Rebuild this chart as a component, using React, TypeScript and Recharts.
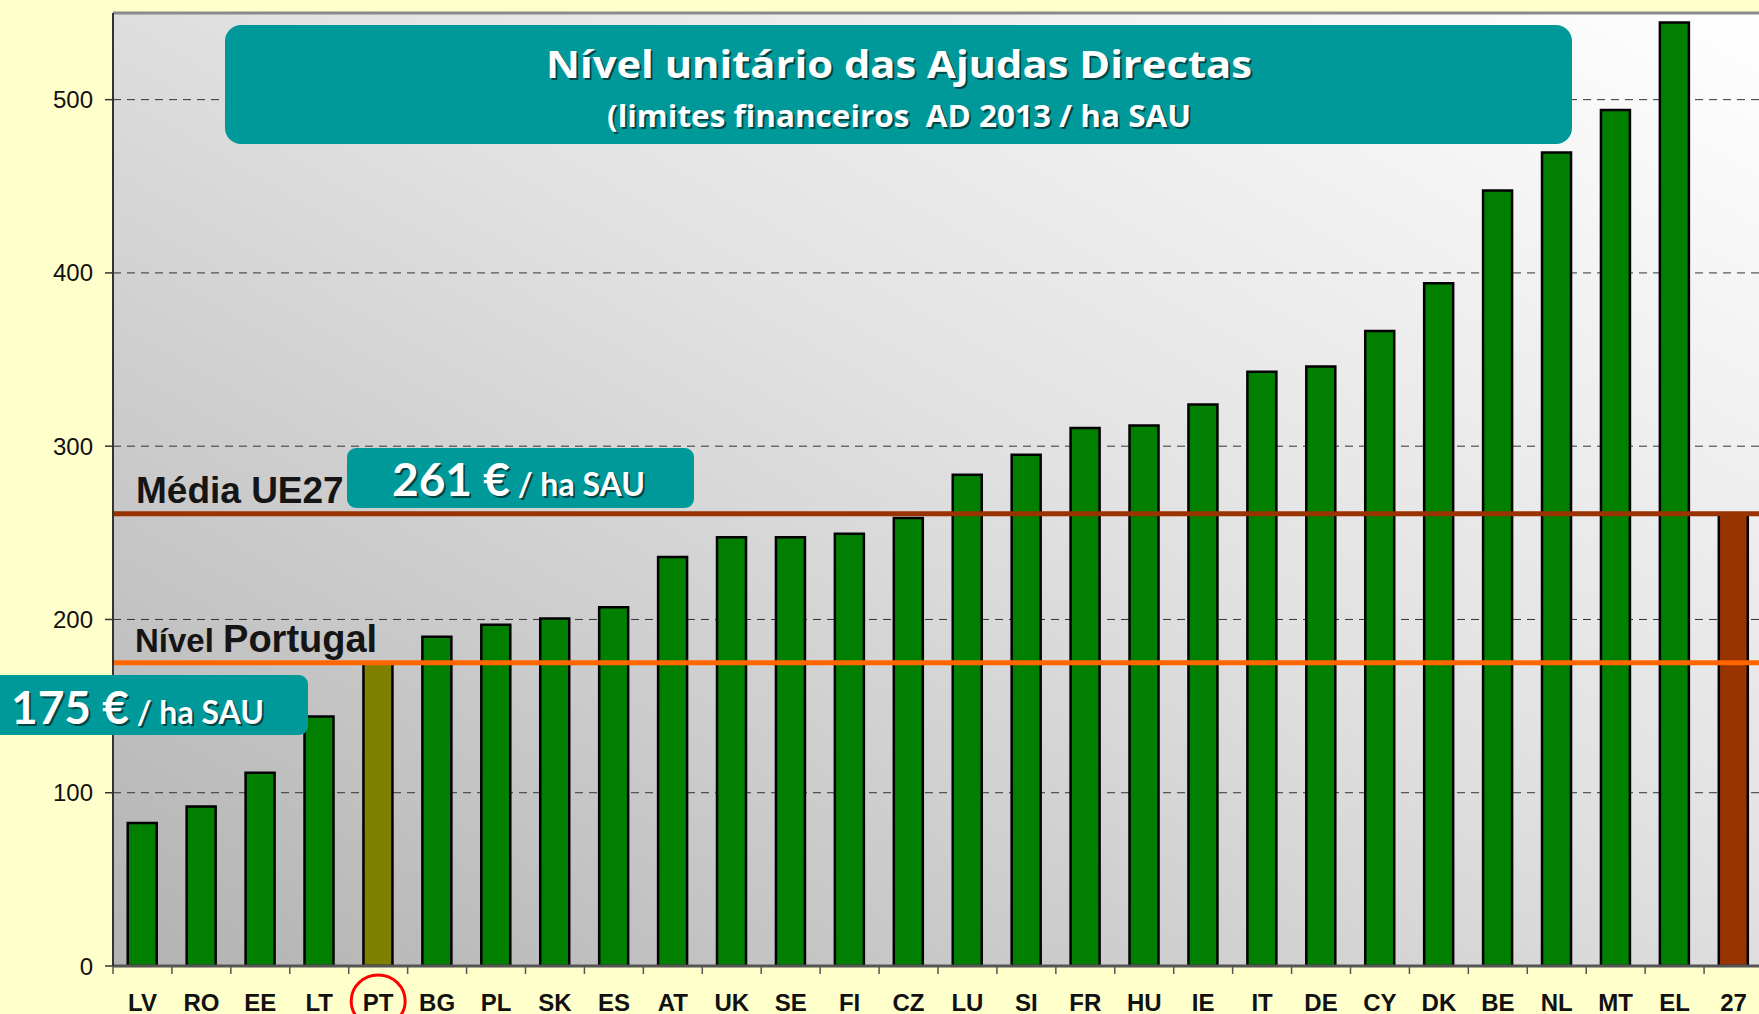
import { Bar, BarChart, CartesianGrid, Cell, ReferenceLine, XAxis, YAxis } from 'recharts'

const countries = ['LV', 'RO', 'EE', 'LT', 'PT', 'BG', 'PL', 'SK', 'ES', 'AT', 'UK', 'SE', 'FI', 'CZ', 'LU', 'SI', 'FR', 'HU', 'IE', 'IT', 'DE', 'CY', 'DK', 'BE', 'NL', 'MT', 'EL', '27']
const aidPerHa = [82.5, 92, 111.5, 144, 175, 190, 197, 200.5, 207, 236, 247.5, 247.5, 249.5, 258.5, 283.5, 295, 310.5, 312, 324, 343, 346, 366.5, 394, 447.5, 469.5, 494, 544.5, 261]
const yTicks = [0, 100, 200, 300, 400, 500]
const euAverage = 261
const portugalLevel = 175

const W = 1759
const H = 1014
const AXIS_W = 113
const XAXIS_H = 48
const TOP = 13
const RIGHT = -4
const BAND = (W - RIGHT - AXIS_W) / countries.length

const GREEN = '#007f00'
const OLIVE = '#808000'
const BROWN = '#993300'
const ORANGE = '#ff6600'
const TEAL = '#009999'
const TITLE_FONT = '"Open Sans", Lato, sans-serif'
const BOX_FONT = 'Lato, "Open Sans", sans-serif'
const LABEL_FONT = '"Liberation Sans", Arial, sans-serif'

const data = countries.map((c, i) => ({ country: c, value: aidPerHa[i] }))

function barColor(c: string) {
  if (c === 'PT') return OLIVE
  if (c === '27') return BROWN
  return GREEN
}

function CountryTick(props: any) {
  const { x, y, payload } = props
  return (
    <g>
      <line x1={x - BAND / 2} x2={x - BAND / 2} y1={y} y2={y + 8} stroke="#555" strokeWidth={1.5} />
      {payload.value === 'PT' && (
        <ellipse cx={x} cy={y + 35} rx={27} ry={26} fill="none" stroke="#ff0000" strokeWidth={3} />
      )}
      <text x={x} y={y + 45} textAnchor="middle" fontFamily={LABEL_FONT} fontWeight="bold" fontSize={24} fill="#111">
        {payload.value}
      </text>
    </g>
  )
}

// white bold text with a small dark drop shadow, optionally stretched to a width
function ShadowText({ x, y, children, size, anchor, font, width }: any) {
  const common = {
    textAnchor: anchor,
    fontFamily: font ?? BOX_FONT,
    fontWeight: 'bold',
    fontSize: size,
    style: { whiteSpace: 'pre' as const },
    ...(width ? { textLength: width, lengthAdjust: 'spacingAndGlyphs' } : {}),
  }
  return (
    <g>
      <text x={x + 2} y={y + 2} fill="rgba(0,0,0,0.55)" {...common}>
        {children}
      </text>
      <text x={x} y={y} fill="#fff" {...common}>
        {children}
      </text>
    </g>
  )
}

function Annotations() {
  return (
    <svg width={W} height={H} style={{ position: 'absolute', left: 0, top: 0, pointerEvents: 'none' }}>
      <rect x={225} y={25} width={1347} height={119} rx={16} fill={TEAL} />
      <ShadowText x={899} y={78} size={37} anchor="middle" font={TITLE_FONT} width={706}>
        Nível unitário das Ajudas Directas
      </ShadowText>
      <ShadowText x={899} y={127} size={30} anchor="middle" font={TITLE_FONT} width={584}>
        (limites financeiros  AD 2013 / ha SAU
      </ShadowText>

      <text x={136} y={503} fontFamily={LABEL_FONT} fontWeight="bold" fontSize={37} fill="#151515">Média UE27</text>
      <rect x={347} y={448} width={347} height={60} rx={9} fill={TEAL} />
      <ShadowText x={392} y={496} size={46}>
        261 €<tspan fontSize={32}> / ha SAU</tspan>
      </ShadowText>

      <text x={135} y={652} fontFamily={LABEL_FONT} fontWeight="bold" fill="#151515">
        <tspan fontSize={33}>Nível </tspan>
        <tspan fontSize={38}>Portugal</tspan>
      </text>
      <rect x={-12} y={675} width={320} height={60} rx={9} fill={TEAL} />
      <ShadowText x={11} y={724} size={46}>
        175 €<tspan fontSize={32}> / ha SAU</tspan>
      </ShadowText>
    </svg>
  )
}

export default function App() {
  return (
    <div style={{ position: 'relative', width: W, height: H, background: '#ffffcc', overflow: 'hidden' }}>
      <style>{'body{margin:0;background:#ffffcc}'}</style>
      <BarChart width={W} height={H} data={data} margin={{ top: TOP, right: RIGHT, left: 0, bottom: 0 }} barCategoryGap="25%">
        <defs>
          <linearGradient id="plotBg" x1="0" y1="1" x2="1" y2="0">
            <stop offset="0%" stopColor="#b2b2b2" />
            <stop offset="55%" stopColor="#e2e2e2" />
            <stop offset="100%" stopColor="#ffffff" />
          </linearGradient>
        </defs>
        <CartesianGrid vertical={false} stroke="#333" strokeDasharray="8 6" fill="url(#plotBg)" fillOpacity={1} />
        <XAxis
          dataKey="country"
          height={XAXIS_H}
          interval={0}
          tickSize={0}
          tickMargin={0}
          tickLine={false}
          axisLine={{ stroke: '#555', strokeWidth: 3 }}
          tick={CountryTick}
        />
        <YAxis
          width={AXIS_W}
          domain={[0, 550]}
          ticks={yTicks}
          allowDataOverflow
          tickSize={8}
          tickMargin={12}
          tickLine={{ stroke: '#333', strokeWidth: 1.5 }}
          axisLine={{ stroke: '#333', strokeWidth: 2 }}
          tick={{ fontSize: 24, fill: '#111', fontFamily: LABEL_FONT }}
        />
        <ReferenceLine y={550} stroke="#8a8a8a" strokeWidth={3} />
        <Bar dataKey="value" stroke="#000" strokeWidth={2.5} isAnimationActive={false}>
          {data.map(d => (
            <Cell key={d.country} fill={barColor(d.country)} />
          ))}
        </Bar>
        <ReferenceLine y={euAverage} stroke={BROWN} strokeWidth={5} />
        <ReferenceLine y={portugalLevel} stroke={ORANGE} strokeWidth={5} />
      </BarChart>
      <Annotations />
    </div>
  )
}
